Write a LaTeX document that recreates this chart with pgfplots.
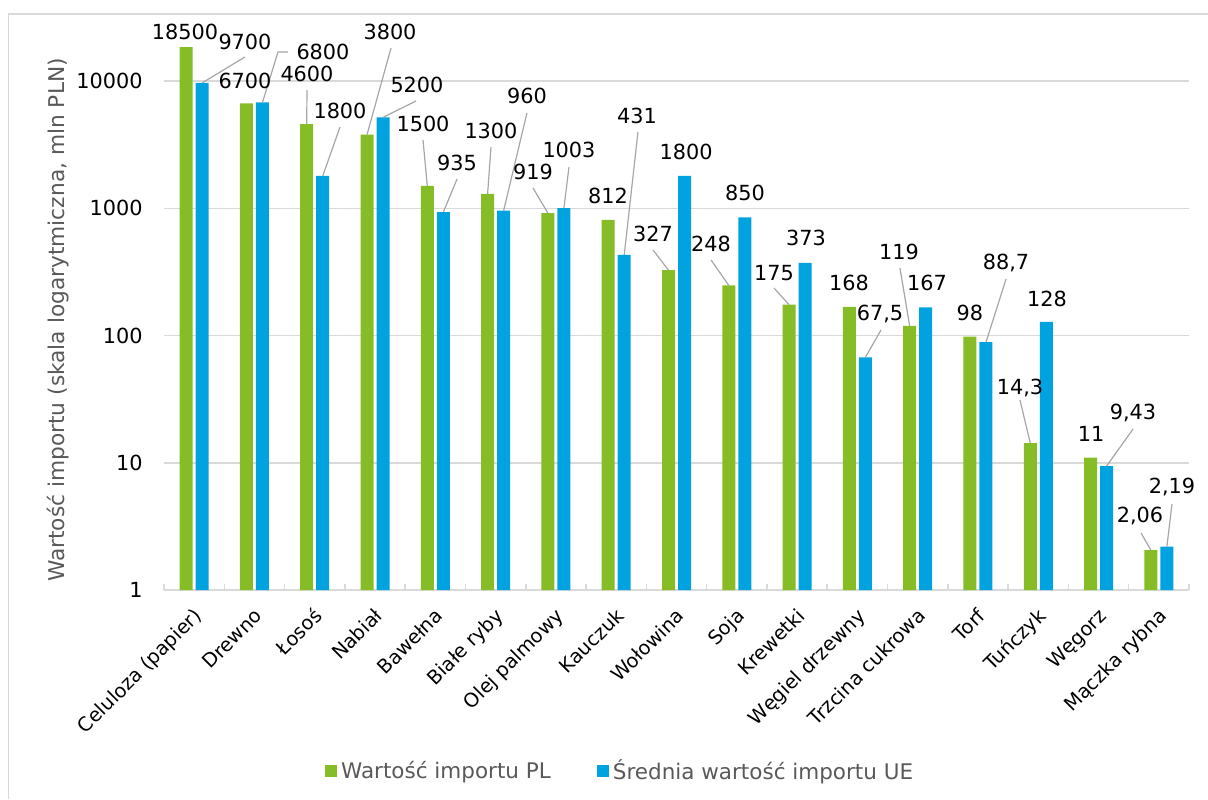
\documentclass[border=0pt]{standalone}
\usepackage{fontspec}
\setmainfont{DejaVu Sans}
\usepackage{pgfplots}
\pgfplotsset{compat=1.18}
\definecolor{plgreen}{HTML}{86BC25}
\definecolor{ueblue}{HTML}{00A3E0}
\definecolor{gridc}{HTML}{D9D9D9}
\definecolor{leadc}{HTML}{A6A6A6}
\definecolor{txtgray}{HTML}{595959}
\begin{document}
\begin{tikzpicture}[
  lab/.style={font=\fontsize{10.4}{12}\selectfont, inner sep=0pt, anchor=center, text=black},
  lead/.style={draw=leadc, line width=0.6pt}]
\useasboundingbox (0,0) rectangle (604pt,399.5pt);
\draw[gridc, line width=0.75pt] (4.2pt,0) -- (4.2pt,392.5pt) -- (604pt,392.5pt);
\begin{axis}[
  at={(82pt,104.5pt)}, anchor=south west,
  scale only axis, width=512.5pt, height=284.75pt,
  ymode=log, ymin=1, ymax=30000,
  xmin=-0.5, xmax=16.5,
  ybar, bar width=6.5pt,
  clip=false,
  separate axis lines,
  axis x line*=bottom, axis y line*=left,
  x axis line style={gridc, line width=0.75pt},
  y axis line style={draw=none},
  xtick={0,...,16},
  xticklabels={Celuloza (papier),Drewno,Łosoś,Nabiał,Bawełna,Białe ryby,Olej palmowy,Kauczuk,Wołowina,Soja,Krewetki,Węgiel drzewny,Trzcina cukrowa,Torf,Tuńczyk,Węgorz,Mączka rybna},
  major x tick style={draw=none},
  minor xtick={-0.5,0.5,...,16.5},
  minor x tick style={gridc, line width=0.75pt},
  minor tick length=3pt,
  tick align=inside,
  xtick pos=bottom,
  ytick={1,10,100,1000,10000},
  yticklabels={1,10,100,1000,10000},
  yminorticks=false,
  major y tick style={draw=none},
  ymajorgrids,
  grid style={gridc, line width=0.75pt},
  xticklabel style={xshift=-1pt, yshift=-8pt, rotate=45, anchor=north east, inner sep=0pt, text height=0.76em, text depth=0.22em, font=\fontsize{9.7}{11}\selectfont, text=black},
  yticklabel style={inner sep=0pt, xshift=-10.5pt, anchor=east, font=\fontsize{10.4}{12}\selectfont, text=black},
  ylabel={Wartość importu (skala logarytmiczna, mln PLN)},
  every axis y label/.style={at={(axis description cs:-0.1034,0.474)}, rotate=90, anchor=center, font=\fontsize{10.85}{12}\selectfont, text=txtgray},
  legend style={at={(axis description cs:0.446,-0.318)}, anchor=center, draw=none, fill=none,
    legend columns=2, font=\fontsize{10.75}{12}\selectfont, text=txtgray,
    /tikz/every even column/.append style={column sep=21pt}},
  legend cell align=left,
]
\addplot[fill=plgreen, draw=none, bar shift=-4pt,
  legend image code/.code={\fill[plgreen] (0pt,-3pt) rectangle (6pt,3pt);}]
  coordinates {(0,18500) (1,6700) (2,4600) (3,3800) (4,1500) (5,1300) (6,919) (7,812) (8,327) (9,248) (10,175) (11,168) (12,119) (13,98) (14,14.3) (15,11) (16,2.06)};
\addlegendentry{Wartość importu PL}
\addplot[fill=ueblue, draw=none, bar shift=4pt,
  legend image code/.code={\fill[ueblue] (0pt,-3pt) rectangle (6pt,3pt);}]
  coordinates {(0,9700) (1,6800) (2,1800) (3,5200) (4,935) (5,960) (6,1003) (7,431) (8,1800) (9,850) (10,373) (11,67.5) (12,167) (13,88.7) (14,128) (15,9.43) (16,2.19)};
\addlegendentry{Średnia wartość importu UE}

% leader lines, PL
\draw[lead] (axis cs:1.867,4600) -- (rel axis cs:0.1395,0.8780);
\draw[lead] (axis cs:2.867,3800) -- (rel axis cs:0.2215,0.9517);
\draw[lead] (axis cs:3.867,1500) -- (rel axis cs:0.2527,0.7902);
\draw[lead] (axis cs:4.867,1300) -- (rel axis cs:0.3190,0.7779);
\draw[lead] (axis cs:5.867,919) -- (rel axis cs:0.3600,0.7059);
\draw[lead] (axis cs:7.867,327) -- (rel axis cs:0.4771,0.5970);
\draw[lead] (axis cs:8.867,248) -- (rel axis cs:0.5337,0.5795);
\draw[lead] (axis cs:9.867,175) -- (rel axis cs:0.5951,0.5303);
\draw[lead] (axis cs:11.867,119) -- (rel axis cs:0.7180,0.5654);
\draw[lead] (axis cs:13.867,14.3) -- (rel axis cs:0.8351,0.3336);
\draw[lead] (axis cs:15.867,2.06) -- (rel axis cs:0.9532,0.1001);
% leader lines, UE
\draw[lead] (axis cs:0.133,9700) -- (rel axis cs:0.0790,0.9359);
\draw[lead] (axis cs:1.133,6800) -- (rel axis cs:0.1112,0.9447) -- (rel axis cs:0.1210,0.9447);
\draw[lead] (axis cs:2.133,1800) -- (rel axis cs:0.1717,0.8130);
\draw[lead] (axis cs:3.133,5200) -- (rel axis cs:0.2459,0.8587);
\draw[lead] (axis cs:4.133,935) -- (rel axis cs:0.2859,0.7217);
\draw[lead] (axis cs:5.133,960) -- (rel axis cs:0.3541,0.8376);
\draw[lead] (axis cs:6.133,1003) -- (rel axis cs:0.3951,0.7428);
\draw[lead] (axis cs:7.133,431) -- (rel axis cs:0.4624,0.8042);
\draw[lead] (axis cs:11.133,67.5) -- (rel axis cs:0.6995,0.4565);
\draw[lead] (axis cs:13.133,88.7) -- (rel axis cs:0.8215,0.5461);
\draw[lead] (axis cs:15.133,9.43) -- (rel axis cs:0.9454,0.2827);
\draw[lead] (axis cs:16.133,2.19) -- (rel axis cs:0.9834,0.1510);

% labels PL
\node[lab] at (rel axis cs:0.0205,0.9798) {18500};
\node[lab] at (rel axis cs:0.0790,0.8938) {6700};
\node[lab] at (rel axis cs:0.1395,0.9061) {4600};
\node[lab] at (rel axis cs:0.2205,0.9798) {3800};
\node[lab] at (rel axis cs:0.2527,0.8183) {1500};
\node[lab] at (rel axis cs:0.3190,0.8060) {1300};
\node[lab] at (rel axis cs:0.3600,0.7340) {919};
\node[lab] at (rel axis cs:0.4332,0.6918) {812};
\node[lab] at (rel axis cs:0.4771,0.6251) {327};
\node[lab] at (rel axis cs:0.5337,0.6076) {248};
\node[lab] at (rel axis cs:0.5951,0.5566) {175};
\node[lab] at (rel axis cs:0.6683,0.5391) {168};
\node[lab] at (rel axis cs:0.7171,0.5935) {119};
\node[lab] at (rel axis cs:0.7863,0.4864) {98};
\node[lab] at (rel axis cs:0.8351,0.3547) {14,3};
\node[lab] at (rel axis cs:0.9044,0.2739) {11};
\node[lab] at (rel axis cs:0.9522,0.1299) {2,06};
% labels UE
\node[lab] at (rel axis cs:0.0790,0.9622) {9700};
\node[lab] at (rel axis cs:0.1551,0.9447) {6800};
\node[lab] at (rel axis cs:0.1717,0.8411) {1800};
\node[lab] at (rel axis cs:0.2468,0.8867) {5200};
\node[lab] at (rel axis cs:0.2859,0.7498) {935};
\node[lab] at (rel axis cs:0.3541,0.8674) {960};
\node[lab] at (rel axis cs:0.3951,0.7726) {1003};
\node[lab] at (rel axis cs:0.4615,0.8323) {431};
\node[lab] at (rel axis cs:0.5093,0.7691) {1800};
\node[lab] at (rel axis cs:0.5668,0.6971) {850};
\node[lab] at (rel axis cs:0.6263,0.6181) {373};
\node[lab] at (rel axis cs:0.6985,0.4846) {67,5};
\node[lab] at (rel axis cs:0.7444,0.5391) {167};
\node[lab] at (rel axis cs:0.8215,0.5742) {88,7};
\node[lab] at (rel axis cs:0.8615,0.5110) {128};
\node[lab] at (rel axis cs:0.9454,0.3108) {9,43};
\node[lab] at (rel axis cs:0.9834,0.1809) {2,19};
\end{axis}
\end{tikzpicture}
\end{document}
